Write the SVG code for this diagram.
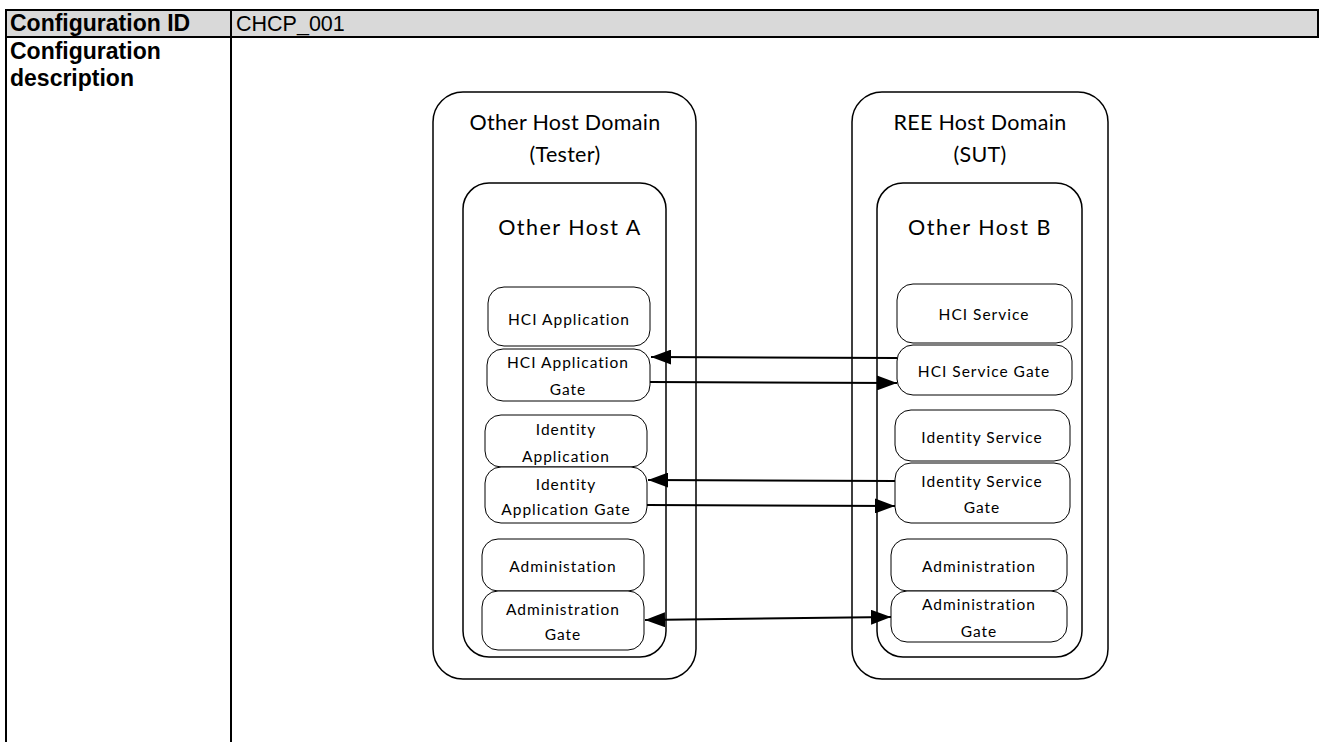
<svg xmlns="http://www.w3.org/2000/svg" width="1321" height="742" viewBox="0 0 1321 742">
<style>
.tbl{stroke:#000;stroke-width:2;fill:none}
.hdr{font-family:"Liberation Sans",Arial,sans-serif;font-size:21.5px;fill:#000}
.b{font-weight:bold;font-size:23px}
.dom{fill:#fff;stroke:#000;stroke-width:1.5}
.box{fill:#fff;stroke:#000;stroke-width:1}
.t1{font-family:Lato,"Open Sans",sans-serif;font-size:21.5px;fill:#000;text-anchor:middle;letter-spacing:0.3px}
.t3{font-family:Lato,"Open Sans",sans-serif;font-size:21.5px;fill:#000;text-anchor:middle;letter-spacing:1.5px}
.t2{font-family:Lato,"Open Sans",sans-serif;font-size:15.5px;fill:#000;text-anchor:middle;letter-spacing:1px}
.cn{stroke:#000;stroke-width:2;fill:none}
</style>
<defs>
<marker id="ah" viewBox="0 0 20 15" refX="20" refY="7.5" markerWidth="20" markerHeight="15" markerUnits="userSpaceOnUse" orient="auto-start-reverse">
<path d="M0,0 L20,7.5 L0,15 z" fill="#000"/>
</marker>
</defs>
<rect width="1321" height="742" fill="#fff"/>
<g id="table">
<rect x="6" y="10" width="1312" height="27" fill="#d9d9d9"/>
<line class="tbl" x1="5" y1="10" x2="1319" y2="10"/>
<line class="tbl" x1="5" y1="37" x2="1319" y2="37"/>
<line class="tbl" x1="6" y1="9" x2="6" y2="742"/>
<line class="tbl" x1="231" y1="9" x2="231" y2="742"/>
<line class="tbl" x1="1318" y1="9" x2="1318" y2="38"/>
<text class="hdr b" x="10" y="31">Configuration ID</text>
<text class="hdr" x="236" y="31">CHCP_001</text>
<text class="hdr b" x="10" y="59">Configuration</text>
<text class="hdr b" x="10" y="86">description</text>
</g>
<g id="domain-tester">
<rect class="dom" x="433" y="92" width="263" height="587" rx="30"/>
<text class="t1" x="565" y="130">Other Host Domain</text>
<text class="t1" x="565" y="162">(Tester)</text>
</g>
<g id="host-a">
<rect class="dom" x="463" y="183" width="203" height="474" rx="26"/>
<text class="t3" x="570" y="235">Other Host A</text>
</g>
<g id="domain-sut">
<rect class="dom" x="852" y="92" width="256" height="587" rx="30"/>
<text class="t1" x="980" y="130">REE Host Domain</text>
<text class="t1" x="980" y="162">(SUT)</text>
</g>
<g id="host-b">
<rect class="dom" x="877" y="183" width="205" height="474" rx="26"/>
<text class="t3" x="980" y="235">Other Host B</text>
</g>
<g id="hci-application">
<rect class="box" x="488" y="287" width="162" height="59" rx="16"/>
<text class="t2" x="569" y="325">HCI Application</text>
</g>
<g id="hci-application-gate">
<rect class="box" x="487" y="349" width="163" height="52" rx="16"/>
<text class="t2" x="568" y="368">HCI Application</text>
<text class="t2" x="568" y="395">Gate</text>
</g>
<g id="identity-application">
<rect class="box" x="485" y="415" width="162" height="52" rx="16"/>
<text class="t2" x="566" y="435">Identity</text>
<text class="t2" x="566" y="462">Application</text>
</g>
<g id="identity-application-gate">
<rect class="box" x="485" y="467" width="162" height="56" rx="16"/>
<text class="t2" x="566" y="490">Identity</text>
<text class="t2" x="566" y="515">Application Gate</text>
</g>
<g id="administation">
<rect class="box" x="482" y="539" width="162" height="52" rx="16"/>
<text class="t2" x="563" y="572">Administation</text>
</g>
<g id="administration-gate-a">
<rect class="box" x="482" y="591" width="162" height="59" rx="16"/>
<text class="t2" x="563" y="615">Administration</text>
<text class="t2" x="563" y="640">Gate</text>
</g>
<g id="hci-service">
<rect class="box" x="897" y="284" width="175" height="59" rx="16"/>
<text class="t2" x="984" y="320">HCI Service</text>
</g>
<g id="hci-service-gate">
<rect class="box" x="897" y="345" width="175" height="50" rx="16"/>
<text class="t2" x="984" y="377">HCI Service Gate</text>
</g>
<g id="identity-service">
<rect class="box" x="895" y="410" width="175" height="51" rx="16"/>
<text class="t2" x="982" y="443">Identity Service</text>
</g>
<g id="identity-service-gate">
<rect class="box" x="895" y="463" width="175" height="60" rx="16"/>
<text class="t2" x="982" y="487">Identity Service</text>
<text class="t2" x="982" y="513">Gate</text>
</g>
<g id="administration">
<rect class="box" x="891" y="539" width="176" height="52" rx="16"/>
<text class="t2" x="979" y="572">Administration</text>
</g>
<g id="administration-gate-b">
<rect class="box" x="891" y="591" width="176" height="51" rx="16"/>
<text class="t2" x="979" y="610">Administration</text>
<text class="t2" x="979" y="637">Gate</text>
</g>
<g id="connectors">
<line class="cn" x1="897" y1="358" x2="651" y2="357" marker-end="url(#ah)"/>
<line class="cn" x1="650" y1="382" x2="897" y2="383" marker-end="url(#ah)"/>
<line class="cn" x1="895" y1="481" x2="648" y2="480" marker-end="url(#ah)"/>
<line class="cn" x1="647" y1="505" x2="895" y2="506" marker-end="url(#ah)"/>
<line class="cn" x1="645" y1="620" x2="891" y2="617" marker-start="url(#ah)" marker-end="url(#ah)"/>
</g>
</svg>
